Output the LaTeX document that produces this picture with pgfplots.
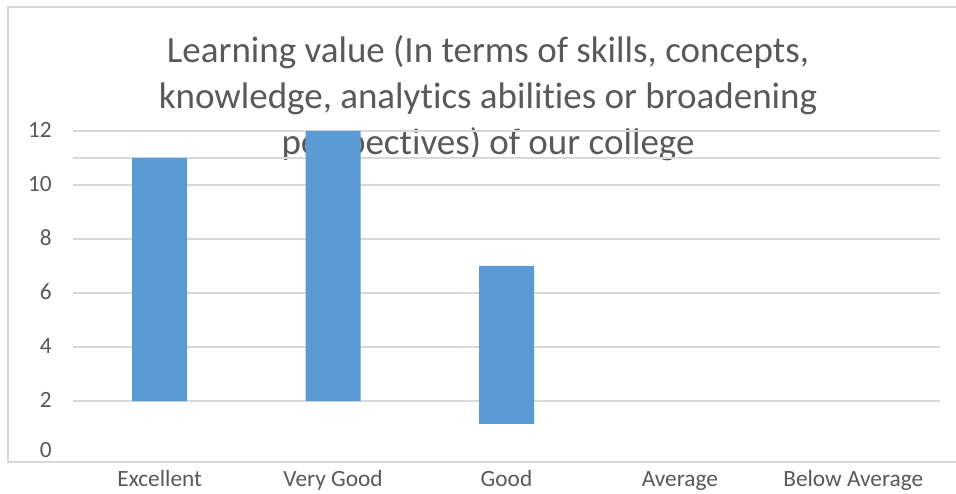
\documentclass[border=0pt]{standalone}
\usepackage{fontspec}
\setmainfont{Carlito}[Ligatures=NoCommon]
\usepackage{pgfplots}
\pgfplotsset{compat=1.18}
\definecolor{barblue}{HTML}{5B9BD5}
\definecolor{gridgray}{HTML}{D9D9D9}
\definecolor{txt}{HTML}{595959}
\begin{document}
\begin{tikzpicture}
\useasboundingbox (-73pt,-38pt) rectangle (883pt,455pt);
% chart frame (right edge is off the picture)
\draw[gridgray, line width=1.3pt] (900pt,448pt) -- (-65pt,448pt) -- (-65pt,-7pt) -- (900pt,-7pt);
% title, drawn first so the bars cover it
\node[align=center, text=txt, font=\fontsize{37}{46}\selectfont] at (415pt,357pt)
  {Learning value (In terms of skills, concepts,\\knowledge, analytics abilities or broadening\\perspectives) of our college};
\begin{axis}[
  at={(0pt,0pt)}, anchor=south west,
  scale only axis,
  width=867pt, height=324pt,
  ybar stacked,
  bar width=55pt,
  xmin=-0.5, xmax=4.5,
  ymin=0, ymax=12,
  xtick={0,1,2,3,4},
  xticklabels={Excellent, Very Good, Good, Average, Below Average},
  ytick={2,4,...,12},
  minor ytick={11},
  extra y ticks={0},
  extra y tick style={grid=none, yticklabel style={yshift=4pt}},
  ymajorgrids, yminorgrids,
  major grid style={gridgray, line width=1.3pt},
  minor grid style={gridgray, line width=1.3pt},
  axis line style={draw=none},
  tick style={draw=none},
  major tick length=0pt, minor tick length=0pt,
  /pgf/number format/assume math mode=true,
  tick label style={text=txt, font=\fontsize{23.3}{28}\selectfont},
  yticklabel style={anchor=east, inner sep=0pt, xshift=-21pt, yshift=1pt},
  xticklabel style={anchor=base, inner sep=0pt, yshift=-31pt},
]
% invisible base of the floating bars
\addplot[draw=none, fill=none] coordinates {(0,2) (1,2) (2,1.15)};
\addplot[draw=none, fill=barblue] coordinates {(0,9) (1,10) (2,5.85)};
\draw[gridgray, line width=1.3pt] (axis cs:-0.5,2) -- (axis cs:4.5,2);
\end{axis}
\end{tikzpicture}
\end{document}
